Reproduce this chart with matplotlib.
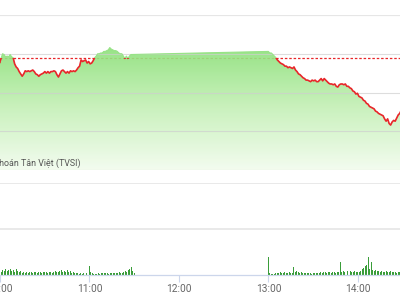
import matplotlib
matplotlib.use("Agg")
import matplotlib.pyplot as plt
import numpy as np
from matplotlib.colors import LinearSegmentedColormap
from matplotlib.patches import Rectangle

# VN-Index intraday, minute by minute (morning from 09:56, afternoon from 13:00)
am_start = "09:56"
pm_start = "13:00"
ref_price = 1184.5

am_price = [
    1184.7, 1184.9, 1184.9, 1184.6, 1184.9, 1184.6, 1184.4, 1183.8, 1184.4, 1185.0,
    1184.9, 1184.6, 1184.7, 1184.6, 1184.9, 1184.6, 1184.5, 1183.7, 1183.3, 1183.1,
    1182.7, 1182.4, 1182.1, 1182.4, 1182.8, 1182.7, 1182.8, 1182.7, 1182.8, 1182.9,
    1182.7, 1182.4, 1182.3, 1182.1, 1182.3, 1182.4, 1182.5, 1182.7, 1182.5, 1182.7,
    1182.5, 1182.7, 1182.7, 1182.8, 1182.7, 1182.3, 1182.0, 1182.4, 1182.8, 1182.9,
    1182.7, 1182.5, 1182.7, 1182.5, 1182.8, 1182.7, 1182.8, 1182.7, 1182.9, 1183.2,
    1183.4, 1184.2, 1184.0, 1184.1, 1184.2, 1183.8, 1184.0, 1183.7, 1183.8, 1184.1,
    1184.5, 1184.7, 1185.0, 1185.0, 1185.1, 1185.1, 1185.3, 1185.3, 1185.4, 1185.5,
    1185.8, 1185.6, 1185.5, 1185.4, 1185.4, 1185.3, 1185.1, 1185.0, 1185.0, 1184.7,
    1184.4, 1184.7, 1184.4, 1184.7, 1184.9,
]
pm_price = [
    1185.3, 1185.3, 1185.1, 1185.1, 1184.9, 1184.7, 1184.5, 1184.2, 1184.0, 1183.8,
    1183.7, 1183.6, 1183.4, 1183.4, 1183.2, 1183.3, 1183.2, 1183.1, 1183.3, 1182.9,
    1182.7, 1182.4, 1182.3, 1182.1, 1181.9, 1181.8, 1181.6, 1181.6, 1181.5, 1181.4,
    1181.6, 1181.5, 1181.6, 1181.4, 1181.4, 1181.6, 1181.8, 1181.5, 1181.8, 1181.6,
    1181.4, 1181.2, 1181.1, 1181.1, 1181.0, 1181.1, 1180.8, 1180.7, 1181.0, 1181.1,
    1181.1, 1181.0, 1181.1, 1180.8, 1180.8, 1180.6, 1180.5, 1180.2, 1180.1, 1179.8,
    1179.9, 1179.5, 1179.4, 1179.3, 1179.0, 1178.9, 1178.6, 1178.5, 1178.2, 1178.1,
    1178.0, 1177.9, 1177.6, 1177.5, 1177.3, 1177.2, 1177.1, 1177.0, 1176.6, 1176.3,
    1176.6, 1176.0, 1175.8, 1176.2, 1176.4, 1176.3, 1176.7, 1177.1, 1177.3, 1177.7,
]

# matched volume per minute (100k shares)
am_vol = [
    1.3, 1.3, 0.9, 1.3, 0.9, 1.3, 2.2, 1.7, 2.6, 1.7,
    2.2, 2.6, 1.7, 2.2, 1.3, 2.6, 1.7, 1.3, 1.7, 0.9,
    1.3, 0.9, 1.3, 0.9, 1.3, 1.3, 0.9, 1.3, 1.3, 0.9,
    1.3, 1.3, 0.9, 1.3, 1.3, 1.3, 0.9, 1.3, 1.3, 0.9,
    1.3, 1.7, 1.3, 1.3, 1.7, 2.2, 1.3, 1.7, 1.3, 2.2,
    1.3, 1.7, 0.9, 1.3, 0.9, 0.9, 0.9, 0.4, 0.9, 0.4,
    0.9, 0.4, 0.9, 0.9, 3.9, 1.3, 0.9, 0.4, 0.4, 0.4,
    0.9, 0.4, 0.9, 0.9, 0.9, 0.9, 0.9, 0.4, 0.9, 0.9,
    0.9, 0.9, 0.9, 0.9, 1.3, 0.9, 0.9, 1.3, 1.7, 1.3,
    2.2, 2.6, 3.5, 1.7, 0.9,
]
pm_vol = [
    7.8, 0.9, 0.4, 0.4, 0.4, 0.9, 0.9, 0.9, 1.3, 0.9,
    0.9, 1.3, 0.9, 0.9, 1.3, 0.9, 0.9, 3.5, 1.3, 1.7,
    1.3, 0.9, 1.3, 0.9, 0.9, 0.9, 0.9, 0.9, 0.9, 0.4,
    0.9, 0.9, 0.9, 0.9, 0.9, 1.3, 0.9, 1.3, 1.3, 0.9,
    1.3, 1.3, 0.9, 1.3, 1.3, 0.9, 1.3, 1.3, 5.7, 1.3,
    1.7, 1.3, 3.0, 1.7, 2.6, 1.7, 1.3, 1.3, 1.7, 1.3,
    1.3, 1.3, 1.7, 2.6, 3.0, 3.9, 4.3, 7.8, 2.6, 5.7,
    2.2, 1.7, 2.2, 1.7, 1.7, 1.3, 1.7, 1.3, 1.3, 1.7,
    1.3, 1.3, 1.7, 1.3, 1.3, 1.3, 0.9, 1.3, 1.3, 0.9,
]

hour_ticks = ["10:00", "11:00", "12:00", "13:00", "14:00"]
source = "Nguồn: Công ty Chứng khoán Tân Việt (TVSI)"


def to_min(hhmm):
    h, m = hhmm.split(":")
    return int(h) * 60 + int(m)


t_am = to_min(am_start) + np.arange(len(am_price))
t_pm = to_min(pm_start) + np.arange(len(pm_price))
t = np.concatenate([t_am, t_pm])
price = np.array(am_price + pm_price)
vol = np.array(am_vol + pm_vol)

XLIM = (603.3, 868.2)
RED = "#e8262a"
NARROW = ["Liberation Sans Narrow", "Roboto", "DejaVu Sans"]

fig = plt.figure(figsize=(4, 3), dpi=100)
ax = fig.add_axes([0, 0.4333, 1, 0.5167])
axv = fig.add_axes([0, 0.0833, 1, 0.3067])

# --- price pane ---
ax.set_xlim(*XLIM)
ax.set_ylim(1170, 1190)
ax.axis("off")

ax.axhline(ref_price, color=RED, lw=0.9, dashes=(2, 1.5), zorder=1)

poly = ax.fill_between(t, price, 1170, facecolor="none", edgecolor="none")
cmap = LinearSegmentedColormap.from_list("g", ["#f2fcee", "#c4f0b6", "#8ae076"])
grad = np.linspace(0, 1, 256).reshape(-1, 1)
im = ax.imshow(grad, cmap=cmap, origin="lower", aspect="auto",
               extent=(XLIM[0], XLIM[1], 1170, 1186), alpha=0.9, zorder=2)
im.set_clip_path(poly.get_paths()[0], transform=ax.transData)

for lvl in [1170, 1175, 1180, 1185]:
    ax.axhline(lvl, color="#cfcfcf", lw=0.8, alpha=0.7, zorder=3)
ax.axhline(1190, color="#e6e6e6", lw=1.6, zorder=3)

above = Rectangle((500, ref_price), 500, 50, transform=ax.transData)
below = Rectangle((500, 1100), 500, ref_price - 1100, transform=ax.transData)
(g_line,) = ax.plot(t, price, color="#97e386", lw=0.8, zorder=4)
g_line.set_clip_path(above)
(r_line,) = ax.plot(t, price, color=RED, lw=1.2, zorder=5)
r_line.set_clip_path(below)

# --- volume pane ---
axv.bar(t, vol, width=0.65, color="#3a9d3a", linewidth=0, zorder=2)
axv.set_xlim(*XLIM)
axv.set_ylim(0, 40)
axv.set_yticks([20, 40])
axv.yaxis.grid(True, color="#e3e3e3", lw=1.1)
axv.set_axisbelow(True)
axv.tick_params(axis="y", left=False, labelleft=False)
for s in ["top", "left", "right"]:
    axv.spines[s].set_visible(False)
axv.spines["bottom"].set_color("#ccd6eb")
axv.spines["bottom"].set_linewidth(0.9)
axv.set_xticks([to_min(h) for h in hour_ticks])
axv.set_xticklabels(hour_ticks, color="#666666", fontsize=7.3, family=NARROW)
axv.tick_params(axis="x", length=5, width=0.8, color="#ccd6eb", pad=1.5)

fig.text(81 / 400, 0.4567, source, ha="right", va="center",
         color="#555555", fontsize=6.4, family=NARROW)

fig.savefig("out.png", dpi=100)
